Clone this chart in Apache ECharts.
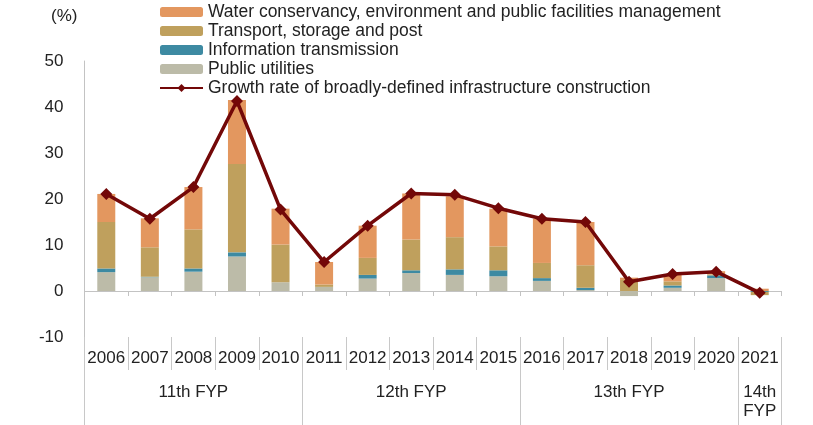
<!DOCTYPE html>
<html>
<head>
<meta charset="utf-8">
<script src="https://cdn.jsdelivr.net/npm/echarts@6/dist/echarts.min.js"></script>
<style>html,body{margin:0;padding:0;background:#fff;}#c{width:813px;height:425px;}</style>
</head>
<body>
<div id="c"></div>
<script>
var years = ['2006','2007','2008','2009','2010','2011','2012','2013','2014','2015','2016','2017','2018','2019','2020','2021'];
var publicUtilities = [4.1, 3.0, 4.2, 7.5, 1.9, 0.9, 2.7, 3.9, 3.5, 3.2, 2.2, 0.2, -1.1, 0.7, 2.8, 0];
var infoTransmission = [0.8, 0.1, 0.7, 0.9, 0, 0, 0.8, 0.6, 1.2, 1.3, 0.6, 0.5, 0, 0.5, 0.6, -0.2];
var transport = [10.1, 6.4, 8.5, 19.2, 8.2, 0.5, 3.7, 6.7, 7.0, 5.2, 3.3, 4.9, 2.4, 0.9, 0.2, -0.7];
var water = [6.1, 6.3, 9.2, 13.9, 7.8, 4.9, 7.0, 10.0, 8.9, 8.2, 9.6, 9.4, 0.5, 1.5, 0.7, 0.5];
var growthRate = [21.1, 15.7, 22.6, 41.3, 17.7, 6.3, 14.2, 21.2, 20.9, 18.0, 15.7, 15.0, 2.0, 3.7, 4.2, -0.4];
var groupLabels = ['11th FYP', '12th FYP', '13th FYP', '14th\nFYP'];
var groupSpans = [5, 5, 5, 1];
var yTicks = [-10, 50, 10];

var names = {
  water: 'Water conservancy, environment and public facilities management',
  transport: 'Transport, storage and post',
  info: 'Information transmission',
  pu: 'Public utilities',
  growth: 'Growth rate of broadly-defined infrastructure construction'
};

var groupStart = [], groupCenter = {}, acc = 0;
groupSpans.forEach(function (s, i) {
  groupStart.push(acc);
  groupCenter[acc + (s - 1) / 2] = groupLabels[i];
  acc += s;
});

var font = 'Liberation Sans, Arial, sans-serif';
var chart = echarts.init(document.getElementById('c'));
chart.setOption({
  animation: false,
  textStyle: { fontFamily: font },
  grid: { left: 84.5, right: 31.5, top: 61, bottom: 88 },
  graphic: [{ type: 'text', left: 51, top: 8, style: { text: '(%)', fill: '#222', font: '17px ' + font } }],
  legend: {
    orient: 'vertical', left: 159, top: 3, padding: 0,
    itemWidth: 43, itemHeight: 10, itemGap: 1, itemTextGap: 5,
    textStyle: { fontSize: 17.5, color: '#222', lineHeight: 18, fontFamily: font },
    data: [names.water, names.transport, names.info, names.pu, names.growth]
  },
  xAxis: [
    {
      type: 'category', data: years, position: 'bottom',
      axisLine: { onZero: true, lineStyle: { color: '#c3c3c3', width: 1 } },
      axisTick: { show: true, interval: 0, length: 5, lineStyle: { color: '#c3c3c3' } },
      axisLabel: { show: false }
    },
    {
      type: 'category', data: years, position: 'bottom',
      axisLine: { show: false, onZero: false },
      axisTick: { show: true, interval: 0, length: 33, lineStyle: { color: '#c8c8c8' } },
      axisLabel: { interval: 0, hideOverlap: false, margin: 13, fontSize: 17, color: '#222', fontFamily: font }
    },
    {
      type: 'category', data: years, position: 'bottom',
      axisLine: { show: false, onZero: false },
      axisTick: {
        show: true, length: 88, lineStyle: { color: '#c8c8c8' },
        interval: function (idx) { return groupStart.indexOf(idx) >= 0; }
      },
      axisLabel: {
        margin: 46, fontSize: 17, color: '#222', lineHeight: 19, fontFamily: font, hideOverlap: false,
        interval: function (idx) { return groupCenter[idx] !== undefined; },
        formatter: function (v, idx) { return groupCenter[idx] || ''; }
      }
    }
  ],
  yAxis: {
    type: 'value', min: yTicks[0], max: yTicks[1], interval: yTicks[2],
    axisLine: { show: true, lineStyle: { color: '#c3c3c3' } },
    axisTick: { show: false },
    splitLine: { show: false },
    axisLabel: { margin: 21, fontSize: 17, color: '#222', fontFamily: font }
  },
  series: [
    { name: names.pu, type: 'bar', stack: 's', xAxisIndex: 0, barWidth: 18, data: publicUtilities, itemStyle: { color: '#bcbba8' } },
    { name: names.info, type: 'bar', stack: 's', xAxisIndex: 0, barWidth: 18, data: infoTransmission, itemStyle: { color: '#3d8aa2' } },
    { name: names.transport, type: 'bar', stack: 's', xAxisIndex: 0, barWidth: 18, data: transport, itemStyle: { color: '#bfa05d' } },
    { name: names.water, type: 'bar', stack: 's', xAxisIndex: 0, barWidth: 18, data: water, itemStyle: { color: '#e3975f' } },
    {
      name: names.growth, type: 'line', xAxisIndex: 0, data: growthRate, z: 5,
      symbol: 'diamond', symbolSize: 12,
      lineStyle: { color: '#730808', width: 3.5 },
      itemStyle: { color: '#730808' }
    }
  ]
});
</script>
</body>
</html>
